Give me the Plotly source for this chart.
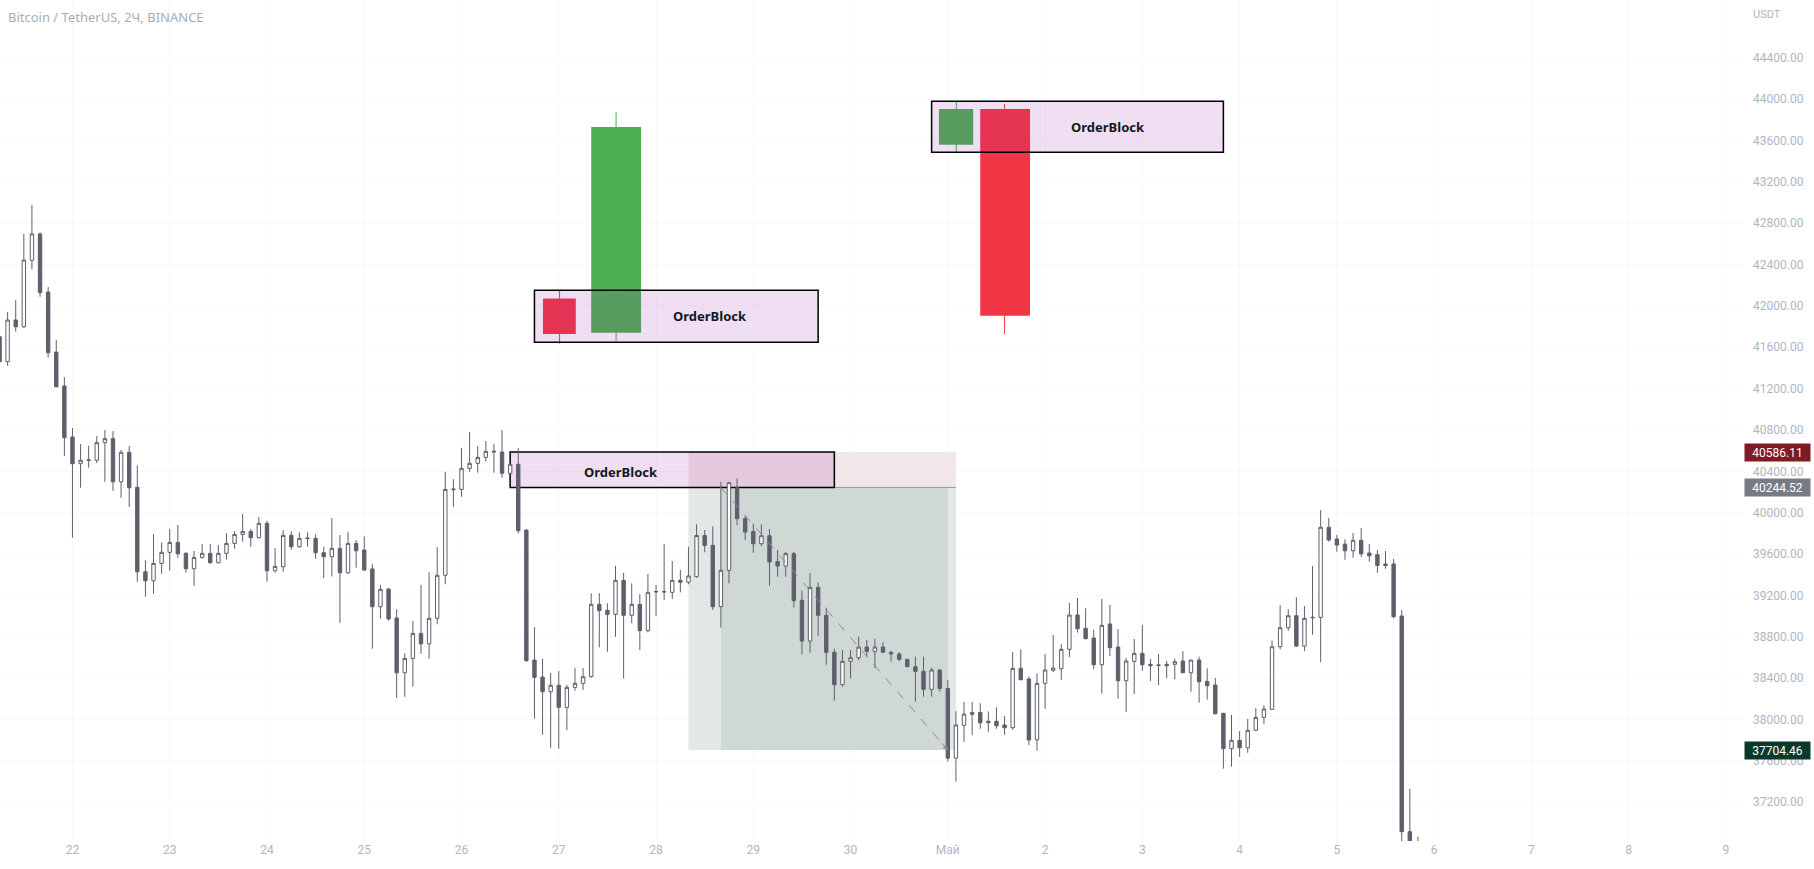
import plotly.graph_objects as go
import pandas as pd

# ---------------- data ----------------
start_time = "2022-04-21 06:00"   # first (partially visible) 2h bar
bar_hours = 2

opens = [41702, 41460, 41863, 41797, 42440, 42695, 42133, 41553, 41225, 40732,
         40474, 40505, 40507, 40677, 40716, 40299, 40584, 40245, 39429, 39342,
         39510, 39617, 39713, 39607, 39458, 39568, 39607, 39516, 39607, 39703,
         39790, 39819, 39758, 39897, 39439, 39477, 39781, 39671, 39750, 39752,
         39613, 39574, 39655, 39419, 39703, 39639, 39456, 39091, 39262, 38982,
         38452, 38591, 38833, 38732, 38979, 39395, 40222, 40225, 40429, 40477,
         40535, 40595, 40587, 40381, 40468, 39832, 38575, 38411, 38269, 38331,
         38118, 38311, 38350, 38414, 39114, 39056, 39017, 39346, 39008, 39114,
         38859, 39233, 39238, 39230, 39346, 39327, 39381, 39779, 39684, 39091,
         39443, 40241, 39942, 39819, 39700, 39777, 39527, 39484, 39603, 39153,
         38759, 39278, 39008, 38650, 38337, 38563, 38598, 38701, 38659, 38701,
         38650, 38634, 38582, 38511, 38466, 38292, 38479, 38301, 37627, 37943,
         38050, 38069, 37983, 37983, 37947, 37921, 38495, 38392, 37805, 38350,
         38476, 38491, 38679, 39011, 38882, 38788, 38530, 38924, 38701, 38375,
         38563, 38640, 38534, 38522, 38534, 38534, 38566, 38453, 38575, 38369,
         38334, 38060, 37718, 37799, 37727, 37896, 38021, 38098, 38704, 38888,
         39004, 38710, 38983, 38988, 39859, 39746, 39697, 39632, 39733, 39610,
         39594, 39504, 39504, 39001, 36916, 36700]
highs = [41760, 41940, 42056, 42695, 42975, 42711, 42182, 41670, 41311, 40819,
         40664, 40648, 40741, 40799, 40790, 40606, 40645, 40458, 39542, 39793,
         39713, 39842, 39881, 39617, 39630, 39697, 39697, 39687, 39803, 39822,
         39987, 39842, 39958, 39923, 39658, 39832, 39822, 39810, 39810, 39790,
         39671, 39948, 39784, 39813, 39736, 39771, 39504, 39301, 39270, 39066,
         38640, 38952, 39301, 39424, 39668, 40396, 40325, 40625, 40780, 40645,
         40693, 40664, 40799, 40480, 40625, 39840, 38893, 38588, 38450, 38469,
         38334, 38501, 38498, 39221, 39221, 39124, 39485, 39417, 39317, 39211,
         39407, 39301, 39697, 39533, 39446, 39671, 39888, 39832, 39868, 40299,
         40295, 40331, 39967, 39894, 39887, 39842, 39639, 39620, 39620, 39246,
         39417, 39327, 39082, 38685, 38672, 38672, 38801, 38768, 38781, 38749,
         38665, 38653, 38585, 38608, 38608, 38501, 38485, 38382, 38081, 38173,
         38170, 38157, 38079, 38118, 38034, 38653, 38679, 38418, 38447, 38633,
         38817, 38730, 39127, 39175, 39076, 38869, 39166, 39108, 38875, 38595,
         38779, 38915, 38585, 38633, 38566, 38588, 38662, 38580, 38608, 38495,
         38402, 38065, 38044, 37888, 38005, 38111, 38137, 38765, 39108, 39066,
         39182, 39098, 39485, 40026, 39948, 39784, 39742, 39803, 39852, 39697,
         39639, 39630, 39552, 39059, 37328, 36867]
lows = [41444, 41421, 41750, 41787, 42353, 42088, 41499, 41210, 40548, 39758,
        40241, 40435, 40480, 40299, 40212, 40144, 40057, 39333, 39188, 39217,
        39410, 39439, 39564, 39419, 39294, 39555, 39506, 39510, 39545, 39652,
        39720, 39671, 39750, 39333, 39419, 39429, 39642, 39661, 39671, 39555,
        39365, 39384, 38936, 39410, 39468, 39439, 38685, 38976, 38956, 38211,
        38221, 38318, 38636, 38588, 38921, 39308, 40057, 40154, 40396, 40387,
        40493, 40387, 40339, 40375, 39800, 38559, 38008, 37853, 37727, 37718,
        37897, 38279, 38286, 38405, 38698, 38656, 38801, 38397, 38930, 38672,
        38843, 39001, 39156, 39165, 39230, 39308, 39371, 39617, 39059, 38889,
        39317, 39880, 39736, 39613, 39677, 39294, 39381, 39381, 39082, 38630,
        38646, 38808, 38530, 38182, 38318, 38397, 38575, 38608, 38498, 38645,
        38559, 38566, 38508, 38173, 38221, 38221, 38269, 37592, 37399, 37785,
        37849, 37911, 37882, 37911, 37853, 37901, 38380, 37753, 37698, 38105,
        38459, 38385, 38604, 38840, 38775, 38488, 38250, 38614, 38201, 38073,
        38246, 38472, 38372, 38334, 38401, 38388, 38448, 38269, 38163, 38192,
        38050, 37525, 37544, 37640, 37679, 37890, 37959, 38092, 38679, 38859,
        38701, 38662, 38820, 38555, 39720, 39623, 39545, 39564, 39574, 39526,
        39419, 39458, 38976, 36650, 36500, 36550]
closes = [41460, 41863, 41797, 42443, 42695, 42127, 41547, 41218, 40725, 40474,
          40507, 40510, 40677, 40716, 40299, 40584, 40241, 39429, 39342, 39510,
          39617, 39713, 39603, 39458, 39568, 39607, 39516, 39607, 39703, 39790,
          39819, 39758, 39897, 39439, 39481, 39781, 39671, 39752, 39755, 39613,
          39574, 39655, 39419, 39703, 39632, 39446, 39091, 39259, 38973, 38452,
          38591, 38833, 38732, 38979, 39395, 40225, 40228, 40429, 40477, 40535,
          40593, 40588, 40381, 40468, 39826, 38569, 38408, 38269, 38331, 38118,
          38311, 38350, 38414, 39114, 39053, 39017, 39346, 39008, 39114, 38859,
          39230, 39238, 39234, 39346, 39327, 39388, 39779, 39684, 39091, 39443,
          40290, 39942, 39813, 39700, 39777, 39523, 39484, 39603, 39149, 38759,
          39278, 39008, 38650, 38337, 38563, 38598, 38701, 38659, 38701, 38650,
          38634, 38582, 38511, 38466, 38292, 38479, 38301, 37627, 37947, 38053,
          38069, 37969, 37969, 37940, 37921, 38495, 38385, 37802, 38350, 38479,
          38498, 38679, 39011, 38878, 38782, 38530, 38911, 38695, 38375, 38566,
          38640, 38530, 38520, 38527, 38520, 38559, 38453, 38575, 38366, 38327,
          38056, 37718, 37799, 37727, 37896, 38021, 38102, 38704, 38888, 39004,
          38710, 38979, 38988, 39859, 39736, 39687, 39632, 39733, 39603, 39584,
          39490, 39490, 38995, 36916, 36700, 36650]

# axis labels
day_ticks = ["2022-04-22", "2022-04-23", "2022-04-24", "2022-04-25", "2022-04-26",
             "2022-04-27", "2022-04-28", "2022-04-29", "2022-04-30", "2022-05-01",
             "2022-05-02", "2022-05-03", "2022-05-04", "2022-05-05", "2022-05-06",
             "2022-05-07", "2022-05-08", "2022-05-09"]
day_labels = ["22", "23", "24", "25", "26", "27", "28", "29", "30", "Май",
              "2", "3", "4", "5", "6", "7", "8", "9"]
price_ticks = [37200, 37600, 38000, 38400, 38800, 39200, 39600, 40000,
               40400, 40800, 41200, 41600, 42000, 42400, 42800, 43200,
               43600, 44000, 44400]

# short position tool (bar indices / prices)
entry_price = 40244.52
stop_price = 40586.11
target_price = 37704.46
pos_bars = [85, 118]          # tool extent
trade_bars = [89, 117]        # entry bar -> target hit bar

# order block zone on the chart
ob_bars = [63, 103]
ob_prices = [40244.52, 40586.11]

# illustration 1 (bearish OB then bullish impulse)
ill1_box_bars = [66, 101]
ill1_box_prices = [41647, 42150]
ill1_red_bars = [67.05, 71.1]
ill1_red_prices = [41728, 42072]
ill1_red_wick = [69.1, 41635, 42153]
ill1_green_bars = [73, 79.15]
ill1_green_prices = [41740, 43729]
ill1_green_wick = [76.07, 41663, 43874]
ill1_text = [87.66, 41898]

# illustration 2 (bullish OB then bearish impulse)
ill2_box_bars = [115, 151]
ill2_box_prices = [43484, 43978]
ill2_green_bars = [115.9, 120.13]
ill2_green_prices = [43558, 43903]
ill2_green_wick = [118.05, 43484, 43978]
ill2_red_bars = [121, 127.14]
ill2_red_prices = [41904, 43903]
ill2_red_wick = [124, 41728, 43951]
ill2_text = [136.7, 43731]

ob_text = [76.7, 40392]

x_view_bars = [0.06, 215.23]
y_view = [36825.7, 44957.2]

# ---------------- figure ----------------
t0 = pd.Timestamp(start_time)


def t_at(i):
    ts = t0 + pd.Timedelta(hours=bar_hours * i)
    return ts.round("s").strftime("%Y-%m-%d %H:%M:%S")


times = [t_at(i) for i in range(len(opens))]

CANDLE = "#5d606b"
RED = "#f23645"
GREEN = "#4caf50"
OBFILL = "rgba(156,39,176,0.15)"
AXIS_TXT = "#b2b5be"
GRID = "#f8f8fa"
FONT = "Noto Sans"

fig = go.Figure()
fig.add_trace(go.Candlestick(
    x=times, open=opens, high=highs, low=lows, close=closes,
    increasing=dict(line=dict(color=CANDLE, width=1), fillcolor="#ffffff"),
    decreasing=dict(line=dict(color=CANDLE, width=1), fillcolor=CANDLE),
    whiskerwidth=0, hoverinfo="skip", showlegend=False,
))

shapes = []


def rect(b, p, fill, line=None, layer="above"):
    d = dict(type="rect", xref="x", yref="y", x0=t_at(b[0]), x1=t_at(b[1]),
             y0=p[0], y1=p[1], fillcolor=fill, layer=layer,
             line=dict(width=0) if line is None else line)
    shapes.append(d)


def vline(w, color):
    shapes.append(dict(type="line", xref="x", yref="y", x0=t_at(w[0]), x1=t_at(w[0]),
                       y0=w[1], y1=w[2], line=dict(color=color, width=1), layer="above"))


# position tool
rect(pos_bars, [target_price, entry_price], "#e3e8e6", layer="between")
rect(trade_bars, [target_price, entry_price], "#cfd8d5", layer="between")
rect(pos_bars, [entry_price, stop_price], "#f2e7e8", layer="between")
shapes.append(dict(type="line", xref="x", yref="y", x0=t_at(pos_bars[0]), x1=t_at(pos_bars[1]),
                   y0=entry_price, y1=entry_price, line=dict(color="#9598a1", width=1),
                   layer="between"))
# order block zone on chart
rect(ob_bars, ob_prices, OBFILL, line=dict(color="#000000", width=1.5), layer="between")
# dashed trade path
shapes.append(dict(type="line", xref="x", yref="y", x0=t_at(trade_bars[0]), x1=t_at(trade_bars[1]),
                   y0=entry_price, y1=target_price,
                   line=dict(color="#8a8d97", width=1, dash="dash"), layer="above"))

# illustration 1
rect(ill1_red_bars, ill1_red_prices, RED)
vline(ill1_red_wick, RED)
rect(ill1_green_bars, ill1_green_prices, GREEN)
vline(ill1_green_wick, GREEN)
rect(ill1_box_bars, ill1_box_prices, OBFILL, line=dict(color="#000000", width=1.5))
# illustration 2
rect(ill2_green_bars, ill2_green_prices, GREEN)
vline(ill2_green_wick, GREEN)
rect(ill2_red_bars, ill2_red_prices, RED)
vline(ill2_red_wick, RED)
rect(ill2_box_bars, ill2_box_prices, OBFILL, line=dict(color="#000000", width=1.5))

annotations = []
for pos in (ob_text, ill1_text, ill2_text):
    annotations.append(dict(x=t_at(pos[0]), y=pos[1], xref="x", yref="y", text="<b>OrderBlock</b>",
                            showarrow=False, font=dict(family=FONT, size=13, color="#131722")))

# arrow head at the end of the dashed path
annotations.append(dict(x=t_at(trade_bars[1]), y=target_price, xref="x", yref="y", text="",
                        showarrow=True, arrowhead=2, arrowsize=1, arrowwidth=1,
                        arrowcolor="#8a8d97", ax=-7, ay=-8))

# price labels on the axis
for price, bg in ((stop_price, "#7e1b24"), (entry_price, "#787b86"), (target_price, "#0b3a2c")):
    annotations.append(dict(x=1, xref="paper", y=price, yref="y", xanchor="left", yanchor="middle",
                            text=f"{price:.2f}", showarrow=False, bgcolor=bg, width=61, height=13,
                            borderpad=2, align="center",
                            font=dict(family="Roboto", size=12, color="#ffffff")))

annotations.append(dict(x=0, y=1, xref="paper", yref="paper", xanchor="left", yanchor="top",
                        xshift=6, yshift=-6, showarrow=False,
                        text="Bitcoin / TetherUS, 2Ч, BINANCE",
                        font=dict(family=FONT, size=13, color="#a9acb5")))
annotations.append(dict(x=1, y=1, xref="paper", yref="paper", xanchor="left", yanchor="top",
                        xshift=7, yshift=-6, showarrow=False, text="USDT",
                        font=dict(family="Roboto", size=11, color=AXIS_TXT)))

fig.update_layout(
    width=1814, height=869,
    margin=dict(l=0, r=70, t=0, b=28),
    paper_bgcolor="#ffffff", plot_bgcolor="#ffffff",
    showlegend=False, hovermode=False, boxgap=0.4,
    shapes=shapes, annotations=annotations,
    xaxis=dict(type="date", range=[t_at(x_view_bars[0]), t_at(x_view_bars[1])],
               tickmode="array", tickvals=day_ticks, ticktext=day_labels,
               showgrid=True, gridcolor=GRID, zeroline=False, showline=False, ticks="",
               tickfont=dict(family="Roboto", size=12, color=AXIS_TXT),
               rangeslider=dict(visible=False), fixedrange=True),
    yaxis=dict(side="right", range=y_view, tickmode="array", tickvals=price_ticks,
               tickformat=".2f", showgrid=True, gridcolor=GRID, zeroline=False,
               showline=False, ticks="", ticklabelstandoff=8,
               tickfont=dict(family="Roboto", size=12, color=AXIS_TXT), fixedrange=True),
)

fig.write_html(
    "out.html",
    config={"displayModeBar": False, "staticPlot": True},
    post_script="document.body.style.margin='0';document.body.style.padding='0';"
                "document.body.style.overflow='hidden';",
)
